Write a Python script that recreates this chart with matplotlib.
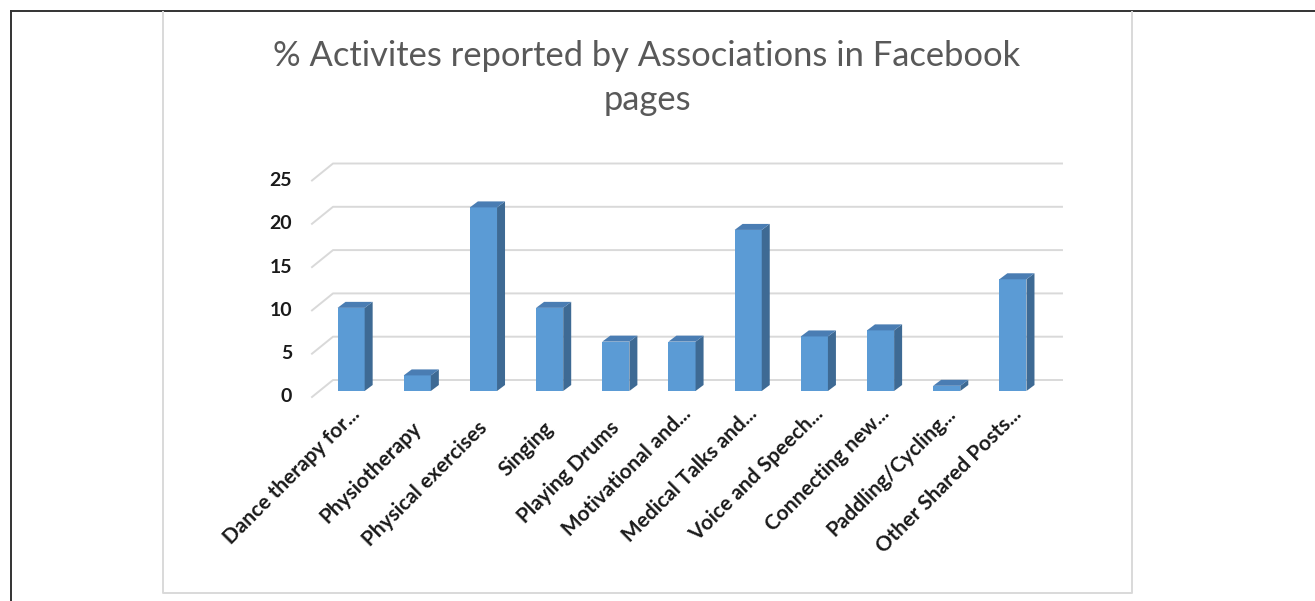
import numpy as np
import matplotlib
matplotlib.use("Agg")
import matplotlib.pyplot as plt
from matplotlib.patches import Polygon
from matplotlib.lines import Line2D

# data
categories = ["Dance therapy for...", "Physiotherapy", "Physical exercises", "Singing",
              "Playing Drums", "Motivational and...", "Medical Talks and...",
              "Voice and Speech...", "Connecting new...", "Paddling/Cycling...",
              "Other Shared Posts..."]
values = [9.6, 1.8, 21.2, 9.6, 5.7, 5.7, 18.6, 6.3, 7.0, 0.6, 12.9]
y_ticks = [0, 5, 10, 15, 20, 25]
title = "% Activites reported by Associations in Facebook\npages"

plt.rcParams['font.family'] = ['Lato', 'DejaVu Sans']

W, H = 1315, 601
fig = plt.figure(figsize=(W / 100, H / 100), dpi=100)

def fx(x):
    return x / W

def fy(y):
    return 1 - y / H

# outer black frame (left + top) and grey chart box
fig.add_artist(Line2D([fx(11), fx(11)], [0, fy(11)], color='#333333', lw=1.4))
fig.add_artist(Line2D([fx(11), 1], [fy(11), fy(11)], color='#333333', lw=1.4))
fig.add_artist(Line2D([fx(163), fx(163), fx(1132), fx(1132)],
                      [fy(12), fy(593), fy(593), fy(12)], color='#D9D9D9', lw=1.4))

# title (baseline of the last line)
fig.text(fx(647), fy(110), title, ha='center', va='baseline', fontsize=24.8,
         color='#595959', linespacing=1.45)

# plot area (bar plane)
ax_l, ax_w, ax_b, ax_h = 318, 728, 391, 216.5
ax = fig.add_axes([fx(ax_l), fy(ax_b), ax_w / W, ax_h / H])
ax.set_xlim(-0.5, 10.5)
ax.set_ylim(0, 25)
ax.axis('off')

ux = 11 / ax_w      # data units per pixel
uy = 25 / ax_h

# perspective gridlines: front stub -> back wall
for v in y_ticks:
    xs = [-0.5 - 6 * ux, -0.5 + 15 * ux, 10.5 + 16 * ux]
    ys = [v - 6 * uy, v + 11 * uy, v + 11 * uy]
    ax.plot(xs, ys, color='#D9D9D9', lw=1.4, clip_on=False, zorder=0)
    ax.text(-0.5 - 26 * ux, v - 6 * uy, str(v), ha='right', va='center',
            fontsize=14, fontweight='bold', color='#1a1a1a')

x = np.arange(len(categories))
bw = 0.41
ax.bar(x, values, width=bw, color='#5B9BD5', zorder=3, clip_on=False)

dx, dy = 8 * ux, 6 * uy
for i, h in zip(x, values):
    xl, xr = i - bw / 2, i + bw / 2
    side = Polygon([(xr, 0), (xr + dx, dy), (xr + dx, h + dy), (xr, h)],
                   closed=True, fc='#3E6A94', ec='none', zorder=3, clip_on=False)
    top = Polygon([(xl, h), (xr, h), (xr + dx, h + dy), (xl + dx, h + dy)],
                  closed=True, fc='#4A7DB3', ec='none', zorder=3, clip_on=False)
    ax.add_patch(side)
    ax.add_patch(top)

# rotated category labels, anchored at the end of their baseline
for i, lab in zip(x, categories):
    if lab.endswith('...'):
        ox, oy = 10, -24
    else:
        ox, oy = 5, -38
    ax.text(i + ox * ux, oy * uy, lab, rotation=45, ha='right', va='baseline',
            rotation_mode='anchor', fontsize=15, fontweight='bold', color='#1a1a1a')

fig.savefig('out.png', dpi=100)
